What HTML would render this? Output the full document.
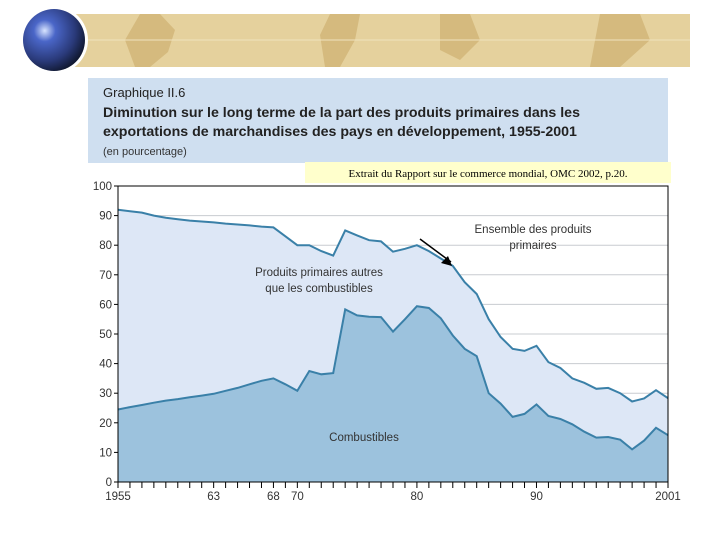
<!DOCTYPE html>
<html><head><meta charset="utf-8"><style>
body{margin:0;background:#fff;width:720px;height:540px;overflow:hidden;position:relative;font-family:"Liberation Sans",sans-serif}
</style></head><body>
<svg width="720" height="540" viewBox="0 0 720 540" xmlns="http://www.w3.org/2000/svg">
<defs>
<radialGradient id="g" cx="0.35" cy="0.35" r="0.7"><stop offset="0" stop-color="#d8e4ff"/><stop offset="0.25" stop-color="#4a66c8"/><stop offset="0.7" stop-color="#2a3a7a"/><stop offset="1" stop-color="#101830"/></radialGradient>
</defs>
<g>
<rect x="62" y="14" width="628" height="53" fill="#e5d19d"/>
<path d="M140 14 L160 14 L175 30 L168 52 L150 67 L135 67 L125 40 Z M330 14 L360 14 L355 40 L340 67 L325 67 L320 35 Z M440 14 L470 14 L480 40 L460 60 L440 50 Z M600 14 L640 14 L650 40 L620 67 L590 67 Z" fill="#d5ba7e"/>
<g stroke="#f0e2bd" stroke-width="1">
<line x1="62" y1="40" x2="690" y2="40"/>
</g>
<circle cx="54" cy="40" r="34" fill="#fff"/>
<circle cx="54" cy="40" r="31" fill="url(#g)"/>
</g>
<g>
<rect x="88" y="78" width="580" height="85" fill="#cfdff0"/>
<text x="103" y="97" font-size="13" fill="#222">Graphique II.6</text>
<text x="103" y="117" font-size="14.2" font-weight="bold" fill="#222">Diminution sur le long terme de la part des produits primaires dans les</text>
<text x="103" y="136" font-size="14.2" font-weight="bold" fill="#222">exportations de marchandises des pays en développement, 1955-2001</text>
<text x="103" y="155" font-size="11" fill="#333">(en pourcentage)</text>
</g>
<rect x="305" y="162" width="366" height="21" fill="#ffffcc"/>
<text x="488" y="177" font-size="11" font-family="Liberation Serif,serif" text-anchor="middle" fill="#000">Extrait du Rapport sur le commerce mondial, OMC 2002, p.20.</text>
<g id="plot"></g>
</svg>
<script>
const years=[1955,1956,1957,1958,1959,1960,1961,1962,1963,1964,1965,1966,1967,1968,1969,1970,1971,1972,1973,1974,1975,1976,1977,1978,1979,1980,1981,1982,1983,1984,1985,1986,1987,1988,1989,1990,1991,1992,1993,1994,1995,1996,1997,1998,1999,2000,2001];
const totalPrimary=[92,91.5,91,90,89.3,88.8,88.3,88,87.7,87.3,87,86.7,86.3,86,83,80,80,78,76.5,85,83.3,81.7,81.3,77.8,78.8,80,78,75.5,73,67.5,63.5,55,49,45,44.3,46,40.5,38.5,35,33.5,31.5,31.8,30,27.2,28.2,31,28.3];
const fuels=[24.5,25.3,26,26.8,27.5,28,28.6,29.2,29.8,30.8,31.8,33,34.2,35,33,30.8,37.5,36.4,36.8,58.3,56.3,55.8,55.7,50.8,55,59.4,58.8,55.3,49.5,45,42.5,30,26.5,22,23,26.2,22.3,21.3,19.5,17,15,15.2,14.3,11,14,18.3,15.8];
const yTicks=[0,10,20,30,40,50,60,70,80,90,100];
const xLabels=[[1955,"1955"],[1963,"63"],[1968,"68"],[1970,"70"],[1980,"80"],[1990,"90"],[2001,"2001"]];
const X0=118,X1=668,Y0=482,Y1=186;
const xs=y=>X0+(y-1955)*(X1-X0)/46;
const ys=v=>Y0-v*(Y0-Y1)/100;
const NS="http://www.w3.org/2000/svg";
const plot=document.getElementById('plot');
function mk(t,a){const e=document.createElementNS(NS,t);for(const k in a)e.setAttribute(k,a[k]);plot.appendChild(e);return e;}
yTicks.forEach(v=>{
 if(v>0&&v<100){const l=mk('line',{x1:X0,x2:X1,y1:ys(v),y2:ys(v),stroke:'#c8ccd0','stroke-width':1});
 
 }
 const t=mk('line',{x1:X0-4,x2:X0,y1:ys(v),y2:ys(v),stroke:'#000'});
 
 
 const tx=mk('text',{x:X0-6,y:ys(v)+4,'font-size':11.5,'text-anchor':'end',fill:'#333'});tx.textContent=v;
 
 
});
function area(arr){let d='M'+xs(years[0])+','+Y0;years.forEach((y,i)=>d+=' L'+xs(y).toFixed(1)+','+ys(arr[i]).toFixed(1));return d+' L'+xs(years[years.length-1])+','+Y0+' Z';}
function line(arr){return 'M'+years.map((y,i)=>xs(y).toFixed(1)+','+ys(arr[i]).toFixed(1)).join(' L');}
const a1=mk('path',{d:area(totalPrimary),fill:'#dde7f6'});


const a2=mk('path',{d:area(fuels),fill:'#9cc2dd'});


const l1=mk('path',{d:line(totalPrimary),fill:'none',stroke:'#3a80a8','stroke-width':2});


const l2=mk('path',{d:line(fuels),fill:'none',stroke:'#3a80a8','stroke-width':2});


const fr=mk('path',{d:`M${X0},${Y0} L${X0},${Y1} L${X1},${Y1} L${X1},${Y0}`,fill:'none',stroke:'#000','stroke-width':1});


const xa=mk('line',{x1:X0,x2:X1,y1:Y0,y2:Y0,stroke:'#000'});


years.forEach(y=>{const t=mk('line',{x1:xs(y),x2:xs(y),y1:Y0,y2:Y0+6,stroke:'#000'});
 
 });
xLabels.forEach(([y,s])=>{const t=mk('text',{x:xs(y),y:500,'font-size':11.5,'text-anchor':'middle',fill:'#333'});t.textContent=s;
 
 });
function lab(x,y,s,n){const t=mk('text',{x:x,y:y,'font-size':11.5,'text-anchor':'middle',fill:'#333'});t.textContent=s;
 
 }
lab(533,233,'Ensemble des produits','label-total-primary');
lab(533,249,'primaires','label-total-primary-2');
lab(319,276,'Produits primaires autres','label-other-primary');
lab(319,292,'que les combustibles','label-other-primary-2');
lab(364,441,'Combustibles','label-fuels');
const ar=mk('path',{d:'M420,239 L451,262',stroke:'#000','stroke-width':1.5,fill:'none'});


const ah=mk('path',{d:'M452,266 L441,263 L448,256 Z',fill:'#000'});


</script>
</body></html>
